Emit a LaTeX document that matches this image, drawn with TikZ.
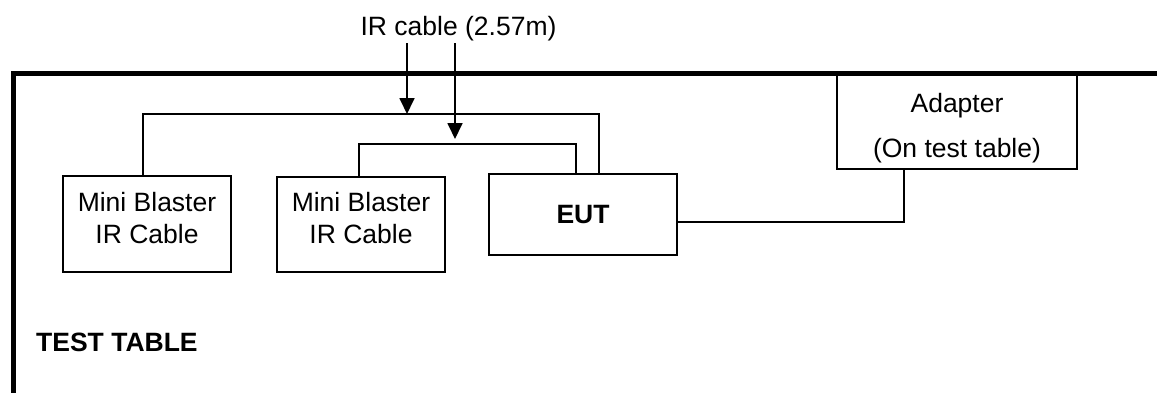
\documentclass[tikz,border=0pt]{standalone}
\usepackage{fontspec}
\setmainfont{Liberation Sans}
\usetikzlibrary{arrows.meta}
\tikzset{
  box/.style={draw=black, line width=1.3pt, fill=white, inner sep=0pt},
  wire/.style={draw=black, line width=1.3pt},
  arr/.style={draw=black, line width=1.8pt, -{Triangle[length=16pt,width=15pt]}},
  tabletop/.style={draw=black, line width=5pt, line join=miter},
  txt/.style={anchor=base, inner sep=0pt, font=\fontsize{26.5}{30}\selectfont},
  btxt/.style={anchor=base, inner sep=0pt, font=\fontsize{26.5}{30}\selectfont\bfseries},
}
\begin{document}
\begin{tikzpicture}[x=1pt,y=-1pt]
\useasboundingbox (0,0) rectangle (1157,392);
\fill[white] (0,0) rectangle (1157,392);
% boxes
\node[box, minimum width=168pt, minimum height=96pt] (mb1) at (147,224) {};
\node[box, minimum width=168pt, minimum height=95pt] (mb2) at (361,224.5) {};
\node[box, line width=1.7pt, minimum width=188pt, minimum height=81pt] (eut) at (583,214.5) {};
\node[box, minimum width=240pt, minimum height=95pt] (adp) at (957,121.5) {};
% test table outline
\draw[tabletop] (13,400) -- (13,73.5) -- (1165,73.5);
% texts
\node[txt] (mb1a) at (147,211.7) {Mini Blaster};
\node[txt] (mb1b) at (147,243.3) {IR Cable};
\node[txt] (mb2a) at (361,211.7) {Mini Blaster};
\node[txt] (mb2b) at (361,243.3) {IR Cable};
\node[btxt] (eutt) at (583,223) {EUT};
\node[txt] (adpa) at (957,112.5) {Adapter};
\node[txt] (adpb) at (957,157) {(On test table)};
\node[btxt, anchor=base west] (tt) at (36,351) {TEST TABLE};
\node[txt] (irl) at (458.5,35) {IR cable (2.57m)};
% connectors
\coordinate (j1) at (599,114);
\coordinate (j2) at (576,144);
\draw[wire] ([xshift=-4pt]mb1.north) |- (j1) -- (j1 |- eut.north);
\draw[wire] ([xshift=-2pt]mb2.north) |- (j2) -- (j2 |- eut.north);
\coordinate (a1) at (407,43);
\coordinate (a2) at (455,43);
\coordinate (t1) at (407,114);
\coordinate (t2) at (455,139);
\draw[arr] (a1) -- (t1);
\draw[arr] (a2) -- (t2);
\coordinate (k) at (904,222);
\draw[wire] (eut.east |- k) -- (k) -- (k |- adp.south);
\end{tikzpicture}
\end{document}
